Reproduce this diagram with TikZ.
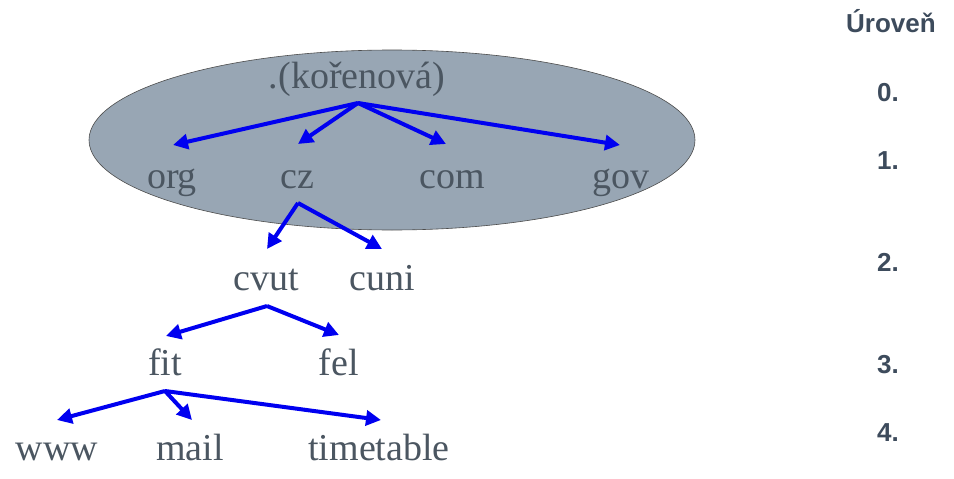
\documentclass[tikz,border=0pt]{standalone}
\usepackage{fontspec}
\setmainfont{Liberation Serif}
\newfontfamily\lvlfont{Liberation Sans}
\usetikzlibrary{arrows.meta,shapes.geometric}
\definecolor{txtgray}{HTML}{4B5661}
\definecolor{ellfill}{HTML}{98A6B4}
\definecolor{lvlcol}{HTML}{3D4B5C}
\definecolor{arrblue}{HTML}{0000F0}
\tikzset{
  dom/.style={anchor=base, inner sep=0pt, text=txtgray, font=\fontsize{38}{45}\selectfont},
  lvl/.style={anchor=base, inner sep=0pt, text=lvlcol, font=\lvlfont\bfseries\fontsize{26}{30}\selectfont},
  arr/.style={draw=arrblue, line width=4pt, -{Triangle[length=15pt,width=15pt]}}
}
\begin{document}
\begin{tikzpicture}[x=1pt,y=-1pt]
\useasboundingbox (0,0) rectangle (954,479);
\fill[white] (0,0) rectangle (954,479);
% ellipse
\node[draw=black!70, line width=0.6pt, fill=ellfill, ellipse, minimum width=606pt, minimum height=180pt, inner sep=0pt] (ell) at (392,140) {};
% domain texts
\node[dom] (root) at (357,88) {.(kořenová)};
\node[dom] (org) at (172,188) {org};
\node[dom] (cz) at (297,188) {cz};
\node[dom] (com) at (452,188) {com};
\node[dom] (gov) at (621,188) {gov};
\node[dom] (cvut) at (266,290) {cvut};
\node[dom] (cuni) at (382,290) {cuni};
\node[dom] (fit) at (165,375) {fit};
\node[dom] (fel) at (339,375) {fel};
\node[dom] (www) at (57,460) {www};
\node[dom] (mail) at (190,460) {mail};
\node[dom] (tt) at (379,460) {timetable};
% arrow points
\coordinate (rootO) at (358,103);
\coordinate (orgT) at (173,145);
\coordinate (czT) at (298,144);
\coordinate (comT) at (446,144);
\coordinate (govT) at (620,145);
\coordinate (czO) at (298,203);
\coordinate (cvutT) at (267,249);
\coordinate (cuniT) at (382,249);
\coordinate (cvutO) at (267,306);
\coordinate (fitT) at (166,336);
\coordinate (felT) at (339,335);
\coordinate (fitO) at (165,391);
\coordinate (wwwT) at (57,420);
\coordinate (mailT) at (192,420);
\coordinate (ttT) at (381,420);
\draw[arr] (rootO) -- (orgT);
\draw[arr] (rootO) -- (czT);
\draw[arr] (rootO) -- (comT);
\draw[arr] (rootO) -- (govT);
\draw[arr] (czO) -- (cvutT);
\draw[arr] (czO) -- (cuniT);
\draw[arr] (cvutO) -- (fitT);
\draw[arr] (cvutO) -- (felT);
\draw[arr] (fitO) -- (wwwT);
\draw[arr] (fitO) -- (mailT);
\draw[arr] (fitO) -- (ttT);
% levels
\node[lvl] (lvlh) at (891,32) {Úroveň};
\node[lvl] (l0) at (888,101) {0.};
\node[lvl] (l1) at (888,169) {1.};
\node[lvl] (l2) at (888,271) {2.};
\node[lvl] (l3) at (888,373) {3.};
\node[lvl] (l4) at (888,441) {4.};
\end{tikzpicture}
\end{document}
